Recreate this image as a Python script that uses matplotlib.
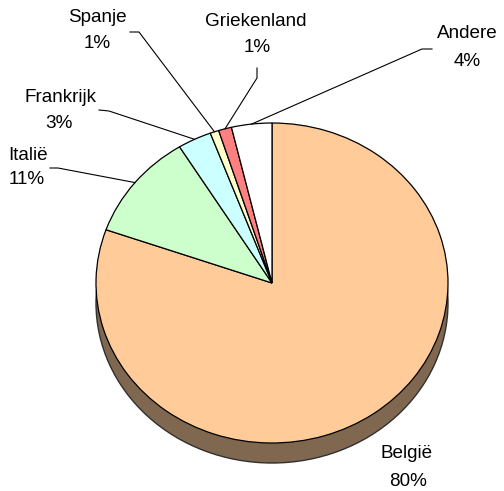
import matplotlib
matplotlib.use('Agg')
import numpy as np
import matplotlib.pyplot as plt

plt.rcParams['font.family'] = ['Liberation Sans', 'DejaVu Sans']

# data (clockwise from 12 o'clock)
countries = ['België', 'Italië', 'Frankrijk', 'Spanje', 'Griekenland', 'Andere']
shares = [80.4, 10.8, 3.1, 0.8, 1.2, 3.7]
slice_colors = ['#FFCC99', '#CCFFCC', '#CCFFFF', '#FFFFCC', '#FF8080', '#FFFFFF']
SHADOW_COLOR = '#806850'

# pie geometry in pixels (figure is 504 x 491)
W, H = 504, 491
CX, CY = 272, 283      # centre of the top face
RX, RY = 176, 160      # ellipse radii
DEPTH = 20             # how far the dark base sits below the top face
FONT_SIZE = 13.6


def px(x, y):
    # pixel position -> data coords of the pie axes
    return (x - CX) / RX, (CY - y) / RY


fig = plt.figure(figsize=(W / 100, H / 100), dpi=100)
ax = fig.add_axes([0, 0, 1, 1])

# dark base under the pie
ax.pie([1], colors=[SHADOW_COLOR], center=(0, -DEPTH / RY), radius=1,
       wedgeprops={'edgecolor': '#303030', 'linewidth': 1.0})

# top face
wedges, _ = ax.pie(shares, colors=slice_colors, startangle=90,
                   counterclock=False, radius=1,
                   wedgeprops={'edgecolor': 'black', 'linewidth': 0.9})

ax.set_aspect('auto')
ax.set_xlim(px(0, 0)[0], px(W, 0)[0])
ax.set_ylim(px(0, H)[1], px(0, 0)[1])
ax.axis('off')

# label positions: (name line centre, value line centre), pixels
label_pos = {
    'België': ((407, 454), (408, 481)),
    'Italië': ((28, 155), (27, 180)),
    'Frankrijk': ((61, 97), (59, 123)),
    'Spanje': ((97, 18), (97, 44)),
    'Griekenland': ((256, 21), (257, 48)),
    'Andere': ((467, 34), (467, 62)),
}
# leader lines: the bent part next to the label, pixels
leader_pts = {
    'Italië': [(50, 168), (58, 168)],
    'Frankrijk': [(99, 110), (109, 111)],
    'Spanje': [(130, 32), (139, 32)],
    'Griekenland': [(257, 68), (257, 78)],
    'Andere': [(432, 49), (422, 49)],
}

for name, share, w in zip(countries, shares, wedges):
    (nx, ny), (vx, vy) = label_pos[name]
    ax.text(*px(nx, ny), name, ha='center', va='center', fontsize=FONT_SIZE)
    ax.text(*px(vx, vy), f'{round(share):d}%', ha='center', va='center',
            fontsize=FONT_SIZE)
    if name in leader_pts:
        mid = np.deg2rad((w.theta1 + w.theta2) / 2)
        pts = [px(x, y) for x, y in leader_pts[name]]
        pts.append((np.cos(mid), np.sin(mid)))
        xs, ys = zip(*pts)
        ax.plot(xs, ys, color='black', linewidth=0.8)

fig.savefig('out.png', dpi=100)
